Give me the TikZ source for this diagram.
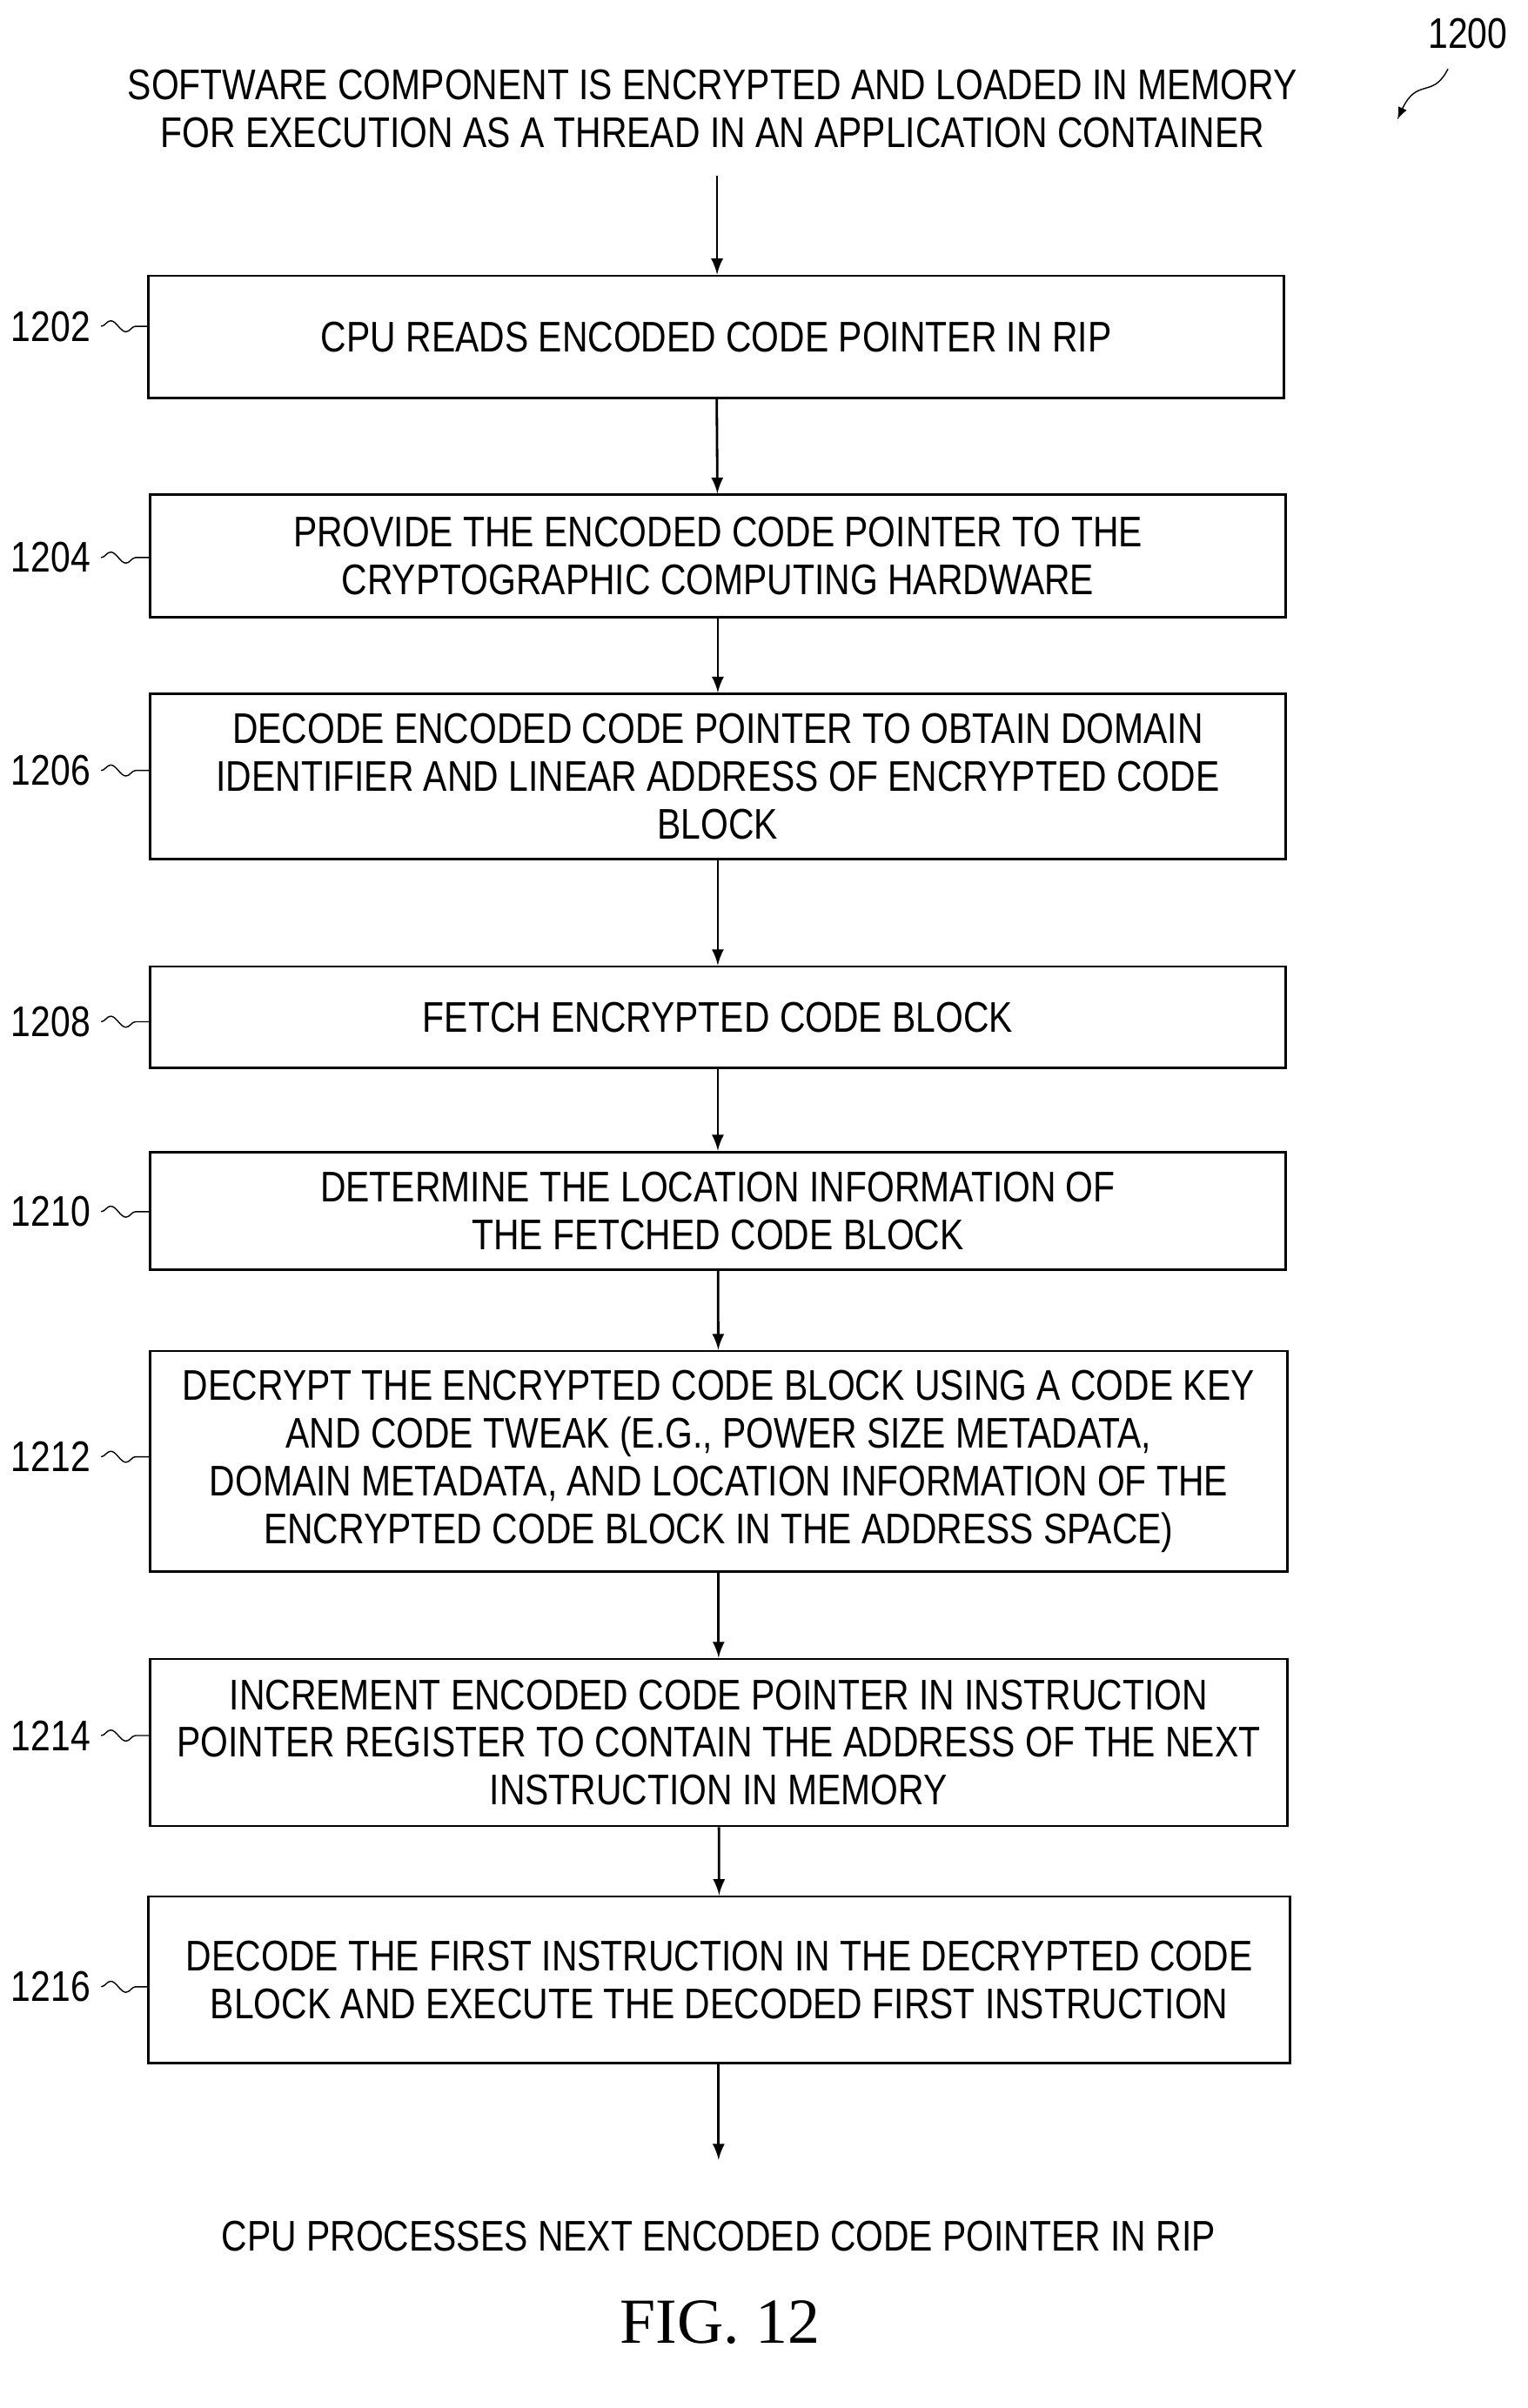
\documentclass[tikz,border=0pt]{standalone}
\usepackage{fontspec}
\setmainfont{Liberation Sans}[FakeStretch=0.83]
\newfontfamily\figfont{Liberation Serif}
\usetikzlibrary{positioning,calc,decorations.pathmorphing}
\tikzset{
  block/.style={draw, thick, align=center, font=\fontsize{14}{15.6}\selectfont},
  free/.style={align=center, font=\fontsize{14}{15.6}\selectfont},
  ref/.style={font=\fontsize{14}{14}\selectfont, anchor=east},
  flow/.style={->, thick, >=latex},
  wave/.style={thin, decorate, decoration={snake, amplitude=1.8pt, segment length=10pt}}
}
\begin{document}
\begin{tikzpicture}[x=0.0176cm, y=-0.0176cm]
  \useasboundingbox (0,0) rectangle (997,1572);
  {
    \node[free] (top) at (465,71) {SOFTWARE COMPONENT IS ENCRYPTED AND LOADED IN MEMORY\\FOR EXECUTION AS A THREAD IN AN APPLICATION CONTAINER};
    \node[block, minimum width=741*0.0176cm, minimum height=80*0.0176cm] (s1) at (467.5,220) {CPU READS ENCODED CODE POINTER IN RIP};
    \node[block, minimum width=741*0.0176cm, minimum height=80*0.0176cm] (s2) at (468.5,363) {PROVIDE THE ENCODED CODE POINTER TO THE\\CRYPTOGRAPHIC COMPUTING HARDWARE};
    \node[block, minimum width=741*0.0176cm, minimum height=108*0.0176cm] (s3) at (468.5,507) {DECODE ENCODED CODE POINTER TO OBTAIN DOMAIN\\IDENTIFIER AND LINEAR ADDRESS OF ENCRYPTED CODE\\BLOCK};
    \node[block, minimum width=741*0.0176cm, minimum height=66*0.0176cm] (s4) at (468.5,664) {FETCH ENCRYPTED CODE BLOCK};
    \node[block, minimum width=741*0.0176cm, minimum height=77*0.0176cm] (s5) at (468.5,790.5) {DETERMINE THE LOCATION INFORMATION OF\\THE FETCHED CODE BLOCK};
    \node[block, minimum width=742*0.0176cm, minimum height=144*0.0176cm] (s6) at (469,954) {DECRYPT THE ENCRYPTED CODE BLOCK USING A CODE KEY\\AND CODE TWEAK (E.G., POWER SIZE METADATA,\\DOMAIN METADATA, AND LOCATION INFORMATION OF THE\\ENCRYPTED CODE BLOCK IN THE ADDRESS SPACE)};
    \node[block, minimum width=742*0.0176cm, minimum height=109*0.0176cm] (s7) at (469,1137.5) {INCREMENT ENCODED CODE POINTER IN INSTRUCTION\\POINTER REGISTER TO CONTAIN THE ADDRESS OF THE NEXT\\INSTRUCTION IN MEMORY};
    \node[block, minimum width=745*0.0176cm, minimum height=109*0.0176cm] (s8) at (469.5,1292.5) {DECODE THE FIRST INSTRUCTION IN THE DECRYPTED CODE\\BLOCK AND EXECUTE THE DECODED FIRST INSTRUCTION};
    \node[free] (end) at (469,1460) {CPU PROCESSES NEXT ENCODED CODE POINTER IN RIP};
    \node[font=\figfont\fontsize{21}{21}\selectfont] (fig) at (470,1516) {FIG. 12};

    \coordinate (a0) at (468,115);
    \coordinate (a9) at (469,1410);
    \draw[flow] (a0) -- (s1.north -| a0);
    \draw[flow] (s1) -- (s2);
    \draw[flow] (s2) -- (s3);
    \draw[flow] (s3) -- (s4);
    \draw[flow] (s4) -- (s5);
    \draw[flow] (s5) -- (s6);
    \draw[flow] (s6) -- (s7);
    \draw[flow] (s7) -- (s8);
    \draw[flow] (s8.south -| a9) -- (a9);

    % reference numerals
    \node[ref] (r1) at (66,213) {1202};
    \node[ref] (r2) at (66,364) {1204};
    \node[ref] (r3) at (66,503) {1206};
    \node[ref] (r4) at (66,667) {1208};
    \node[ref] (r5) at (66,791) {1210};
    \node[ref] (r6) at (66,951) {1212};
    \node[ref] (r7) at (66,1133) {1214};
    \node[ref] (r8) at (66,1297) {1216};
    \foreach \r/\s in {r1/s1,r2/s2,r3/s3,r4/s4,r5/s5,r6/s6,r7/s7,r8/s8}
      \draw[wave] (\r.east) -- (\r.east -| \s.west);

    \node[font=\fontsize{14}{14}\selectfont] (r0) at (958,22) {1200};
    \coordinate (p0) at (912,78);
    \draw[flow, thin] (945,45) .. controls (935,65) and (925,50) .. (p0);
  }
\end{tikzpicture}
\end{document}
